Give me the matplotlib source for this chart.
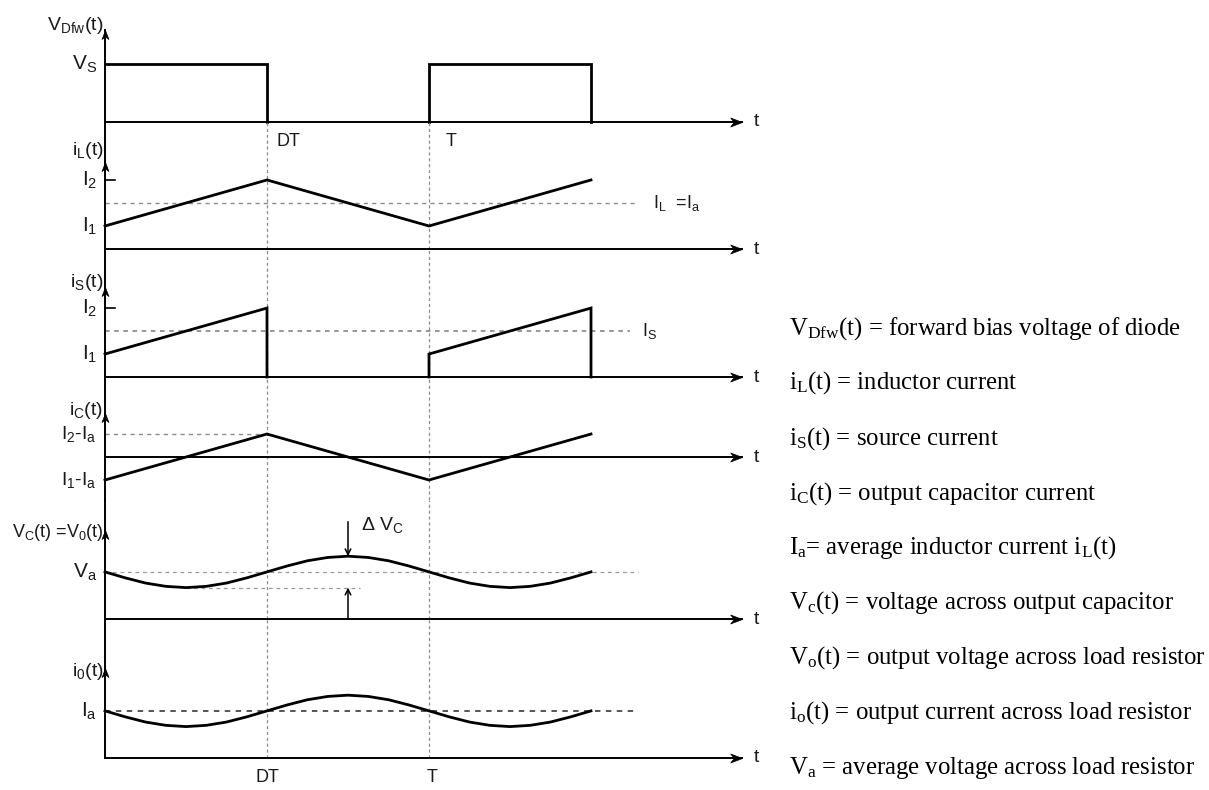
import matplotlib
matplotlib.use('Agg')
import matplotlib.pyplot as plt
from matplotlib.path import Path
import numpy as np

plt.rcParams['font.family'] = ['Liberation Sans', 'DejaVu Sans']
plt.rcParams['mathtext.default'] = 'regular'

# time in units of the period T (duty cycle D = 0.5)
DT, TP = 0.5, 1.0
T_AXIS_END = 1.966

# diode forward voltage (square wave), Vs = 1
vd_t = [0.0, 0.5, 0.5, 1.0, 1.0, 1.5, 1.5]
vd_v = [1.0, 1.0, 0.0, 0.0, 1.0, 1.0, 0.0]

# inductor current, I1 = 1, I2 = 3
il_t = [0.0, 0.5, 1.0, 1.5]
il_v = [1.0, 3.0, 1.0, 3.0]
il_avg = 2.0

# source current
is_t = [0.0, 0.5, 0.5, 1.0, 1.0, 1.5, 1.5]
is_v = [1.0, 3.0, 0.0, 0.0, 1.0, 3.0, 0.0]
is_avg = 2.0

# capacitor current (I1-Ia = -1, I2-Ia = 1)
ic_t = [0.0, 0.5, 1.0, 1.5]
ic_v = [-1.0, 1.0, -1.0, 1.0]

# capacitor voltage and output current, read every T/16
ripple_t = np.arange(25) / 16
vc_v = [3.00, 2.62, 2.29, 2.08, 2.00, 2.08, 2.29, 2.62, 3.00, 3.38, 3.71, 3.92, 4.00,
        3.92, 3.71, 3.38, 3.00, 2.62, 2.29, 2.08, 2.00, 2.08, 2.29, 2.62, 3.00]
vc_avg, vc_min, vc_max = 3.0, 2.0, 4.0
io_v = [3.00, 2.62, 2.29, 2.08, 2.00, 2.08, 2.29, 2.62, 3.00, 3.38, 3.71, 3.92, 4.00,
        3.92, 3.71, 3.38, 3.00, 2.62, 2.29, 2.08, 2.00, 2.08, 2.29, 2.62, 3.00]
io_avg = 3.0

legend_lines = [
    'V$_{Dfw}$(t) = forward bias voltage of diode',
    'i$_L$(t) = inductor current',
    'i$_S$(t) = source current',
    'i$_C$(t) = output capacitor current',
    'I$_a$= average inductor current i$_L$(t)',
    'V$_c$(t) = voltage across output capacitor',
    'V$_o$(t) = output voltage across load resistor',
    'i$_o$(t) = output current across load resistor',
    'V$_a$ = average voltage across load resistor',
]

# layout (pixels)
FIG_W, FIG_H = 1209, 790
X0_PX, PX_PER_T, XR_PX = 105, 324, 775
# (top px, bottom px, ymin, ymax, y-arrow tip)
panels = [
    (30, 122, 0.0, 1.59, 1.59),
    (122, 249, 0.0, 5.52, 3.80),
    (249, 377, 0.0, 5.57, 3.90),
    (377, 500, -1.87, 3.48, 1.92),
    (500, 619, 0.0, 7.58, 5.65),
    (619, 758, 0.0, 8.85, 5.70),
]

ARROW_R = Path([(0, 0), (-1, 0.38), (-0.7, 0), (-1, -0.38), (0, 0)],
               [Path.MOVETO, Path.LINETO, Path.LINETO, Path.LINETO, Path.CLOSEPOLY])
ARROW_U = Path([(0, 0), (0.38, -1), (0, -0.7), (-0.38, -1), (0, 0)],
               [Path.MOVETO, Path.LINETO, Path.LINETO, Path.LINETO, Path.CLOSEPOLY])

TXT = '#1a1a1a'
WAVE = dict(color='black', lw=2.0, solid_joinstyle='miter', zorder=5, clip_on=False)
VDASH = dict(color='#8c8c8c', lw=0.9, dashes=(2.5, 2.2), zorder=1)


def plot_wave(ax, t, v):
    # draw the waveform, leaving the parts that lie on the time axis to the axis line
    t = np.asarray(t, float)
    v = np.asarray(v, float)
    on_axis = (v[:-1] == 0) & (v[1:] == 0)
    start = 0
    for i in np.flatnonzero(on_axis):
        ax.plot(t[start:i + 1], v[start:i + 1], **WAVE)
        start = i + 1
    ax.plot(t[start:], v[start:], **WAVE)


fig = plt.figure(figsize=(FIG_W / 100, FIG_H / 100), dpi=100)
axes = []
for top, bot, y0, y1, tip in panels:
    ax = fig.add_axes([X0_PX / FIG_W, 1 - bot / FIG_H,
                       (XR_PX - X0_PX) / FIG_W, (bot - top) / FIG_H])
    ax.set_xlim(0, (XR_PX - X0_PX) / PX_PER_T)
    ax.set_ylim(y0, y1)
    for s in ('top', 'right', 'bottom'):
        ax.spines[s].set_visible(False)
    ax.spines['left'].set_linewidth(1.4)
    ax.set_xticks([])
    ax.set_yticks([])
    ax.patch.set_visible(False)
    # time axis with arrow
    ax.plot([0, T_AXIS_END], [0, 0], color='black', lw=1.4, clip_on=False, zorder=3)
    ax.plot(T_AXIS_END, 0, marker=ARROW_R, ms=17, color='black', mew=0.5, clip_on=False)
    ax.text(T_AXIS_END + 0.035, 0, 't', fontsize=14, color=TXT, ha='left', va='center')
    ax.plot(0, tip, marker=ARROW_U, ms=13, color='black', mew=0.5, clip_on=False, zorder=6)
    axes.append(ax)

ax1, ax2, ax3, ax4, ax5, ax6 = axes

for ax in axes[1:]:
    ax.axvline(DT, **VDASH)
    ax.axvline(TP, **VDASH)

# panel 1: diode voltage
plot_wave(ax1, vd_t, vd_v)
ax1.text(-0.005, 1.67, 'V$_{Dfw}$(t)', fontsize=14, color=TXT, ha='right', va='center')
ax1.text(-0.025, 1.0, 'V$_S$', fontsize=15, color=TXT, ha='right', va='center')
ax1.text(0.53, -0.34, 'DT', fontsize=13, color=TXT, ha='left', va='center', clip_on=False)
ax1.text(1.05, -0.34, 'T', fontsize=13, color=TXT, ha='left', va='center', clip_on=False)

# panel 2: inductor current
ax2.plot([0, 1.645], [il_avg, il_avg], color='#8c8c8c', lw=1.0, dashes=(3, 3), zorder=2)
plot_wave(ax2, il_t, il_v)
ax2.plot([0, 0.03], [il_v[1], il_v[1]], color='black', lw=1.2)
ax2.text(-0.005, 4.3, 'i$_L$(t)', fontsize=14, color=TXT, ha='right', va='center')
ax2.text(-0.025, 3.0, 'I$_2$', fontsize=15, color=TXT, ha='right', va='center')
ax2.text(-0.025, 1.0, 'I$_1$', fontsize=15, color=TXT, ha='right', va='center')
ax2.text(1.69, il_avg, 'I$_L$  =I$_a$', fontsize=13, color=TXT, ha='left', va='center')

# panel 3: source current
ax3.plot([0, 1.62], [is_avg, is_avg], color='#7a7a7a', lw=1.1, dashes=(3, 3), zorder=2)
plot_wave(ax3, is_t, is_v)
ax3.plot([0, 0.03], [is_v[1], is_v[1]], color='black', lw=1.2)
ax3.text(-0.005, 4.13, 'i$_S$(t)', fontsize=14, color=TXT, ha='right', va='center')
ax3.text(-0.025, 3.0, 'I$_2$', fontsize=15, color=TXT, ha='right', va='center')
ax3.text(-0.025, 1.0, 'I$_1$', fontsize=15, color=TXT, ha='right', va='center')
ax3.text(1.657, is_avg, 'I$_S$', fontsize=13, color=TXT, ha='left', va='center')

# panel 4: capacitor current
ax4.plot([0, DT], [ic_v[1], ic_v[1]], color='#8c8c8c', lw=1.0, dashes=(3, 3), zorder=2)
plot_wave(ax4, ic_t, ic_v)
ax4.text(-0.005, 2.04, 'i$_C$(t)', fontsize=14, color=TXT, ha='right', va='center')
ax4.text(-0.025, 1.0, 'I$_2$-I$_a$', fontsize=14, color=TXT, ha='right', va='center')
ax4.text(-0.025, -1.0, 'I$_1$-I$_a$', fontsize=14, color=TXT, ha='right', va='center')

# panel 5: capacitor voltage
ax5.plot([0, 1.645], [vc_avg, vc_avg], color='#9a9a9a', lw=0.9, dashes=(3, 3), zorder=2)
ax5.plot([0.25, 0.787], [vc_min, vc_min], color='#9a9a9a', lw=0.9, dashes=(3, 3), zorder=2)
plot_wave(ax5, ripple_t, vc_v)
ax5.annotate('', xy=(0.75, vc_max), xytext=(0.75, 6.2),
             arrowprops=dict(arrowstyle='->', lw=1.1, color='black', shrinkA=0, shrinkB=0))
ax5.annotate('', xy=(0.75, vc_min), xytext=(0.75, 0),
             arrowprops=dict(arrowstyle='->', lw=1.1, color='black', shrinkA=0, shrinkB=0))
ax5.text(0.79, 6.0, 'Δ V$_C$', fontsize=14, color=TXT, ha='left', va='center')
ax5.text(-0.005, 5.54, 'V$_C$(t) =V$_0$(t)', fontsize=13, color=TXT, ha='right', va='center')
ax5.text(-0.025, vc_avg, 'V$_a$', fontsize=15, color=TXT, ha='right', va='center')

# panel 6: output current
ax6.plot([0, 1.645], [io_avg, io_avg], color='#555555', lw=1.4, dashes=(2.8, 2.8), zorder=2)
plot_wave(ax6, ripple_t, io_v)
ax6.text(-0.005, 5.48, 'i$_0$(t)', fontsize=14, color=TXT, ha='right', va='center')
ax6.text(-0.025, io_avg, 'I$_a$', fontsize=15, color=TXT, ha='right', va='center')
ax6.text(DT, -1.21, 'DT', fontsize=13, color=TXT, ha='center', va='center')
ax6.text(TP + 0.01, -1.21, 'T', fontsize=13, color=TXT, ha='center', va='center')

# legend text on the right
legend_y_px = [329, 383, 439, 494, 548, 603, 658, 713, 768]
for line, ypx in zip(legend_lines, legend_y_px):
    fig.text(789 / FIG_W, 1 - ypx / FIG_H, line, fontsize=17.8, color='black',
             family='Liberation Serif', ha='left', va='center')

fig.savefig('out.png', dpi=100, facecolor='white')
